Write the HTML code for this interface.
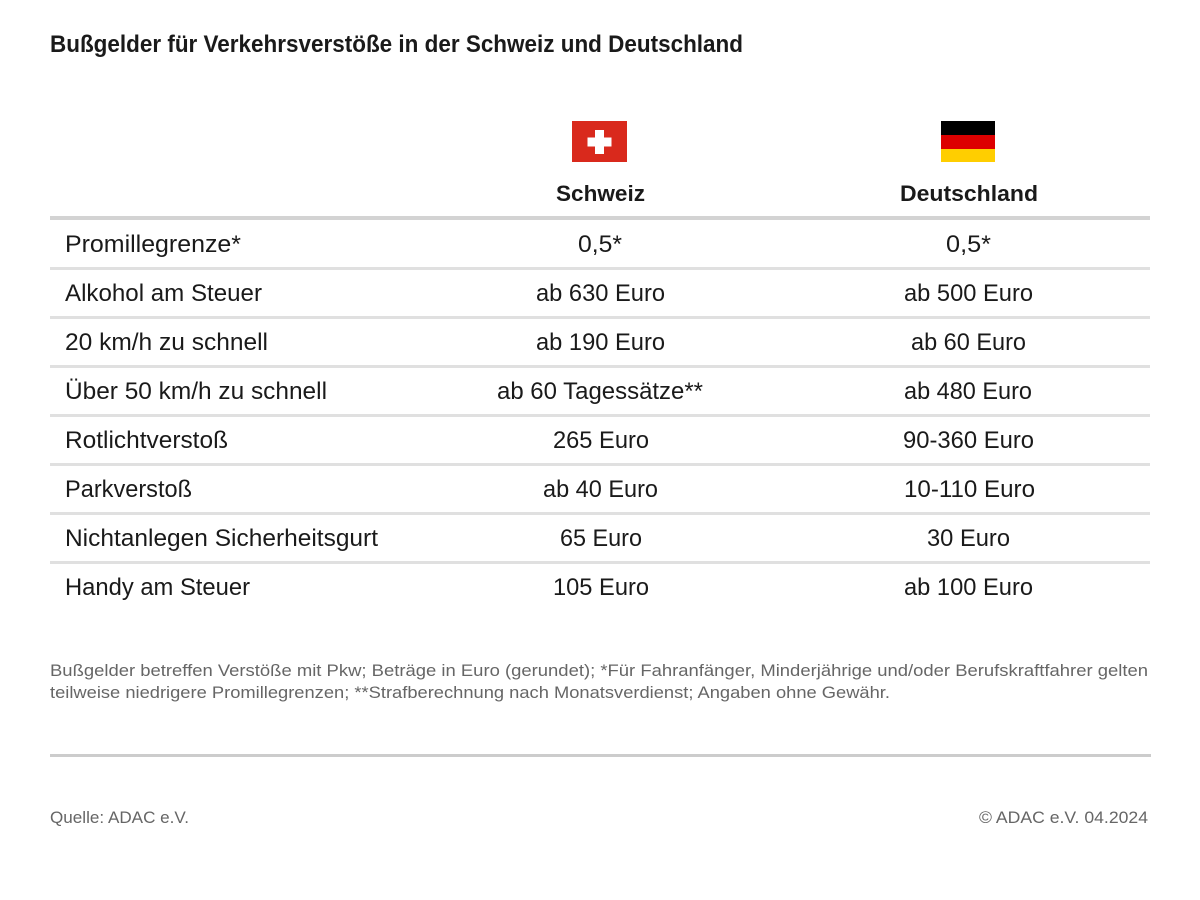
<!DOCTYPE html>
<html>
<head>
<meta charset="utf-8">
<style>
  html, body { margin: 0; padding: 0; background: #ffffff; }
  svg { display: block; }
  text { font-family: "Liberation Sans", "DejaVu Sans", sans-serif; }
</style>
</head>
<body>
<svg width="1200" height="900" viewBox="0 0 1200 900" xmlns="http://www.w3.org/2000/svg">
  <rect x="0" y="0" width="1200" height="900" fill="#ffffff"/>

  <!-- Title -->
  <text x="50" y="52" font-size="24" font-weight="bold" fill="#1a1a1a" textLength="693" lengthAdjust="spacingAndGlyphs">Bußgelder für Verkehrsverstöße in der Schweiz und Deutschland</text>

  <!-- Swiss flag -->
  <rect x="572" y="121" width="55" height="41" fill="#d9291c"/>
  <rect x="595" y="130" width="9" height="24" fill="#ffffff"/>
  <rect x="587.5" y="137.5" width="24" height="9" fill="#ffffff"/>

  <!-- German flag -->
  <rect x="941" y="121" width="54" height="14" fill="#000000"/>
  <rect x="941" y="135" width="54" height="14" fill="#dd0000"/>
  <rect x="941" y="149" width="54" height="13" fill="#ffce00"/>

  <!-- Column headers -->
  <text x="600.5" y="201" font-size="22" font-weight="bold" fill="#1a1a1a" text-anchor="middle" textLength="89" lengthAdjust="spacingAndGlyphs">Schweiz</text>
  <text x="969" y="201" font-size="22" font-weight="bold" fill="#1a1a1a" text-anchor="middle" textLength="138" lengthAdjust="spacingAndGlyphs">Deutschland</text>

  <!-- Header line -->
  <rect x="50" y="216" width="1100" height="4" fill="#d3d3d3"/>

  <!-- Row lines -->
  <rect x="50" y="267" width="1100" height="3" fill="#e0e0e0"/>
  <rect x="50" y="316" width="1100" height="3" fill="#e0e0e0"/>
  <rect x="50" y="365" width="1100" height="3" fill="#e0e0e0"/>
  <rect x="50" y="414" width="1100" height="3" fill="#e0e0e0"/>
  <rect x="50" y="463" width="1100" height="3" fill="#e0e0e0"/>
  <rect x="50" y="512" width="1100" height="3" fill="#e0e0e0"/>
  <rect x="50" y="561" width="1100" height="3" fill="#e0e0e0"/>

  <g font-size="24" fill="#1a1a1a">
    <!-- Row labels -->
    <text x="65" y="252" textLength="176" lengthAdjust="spacingAndGlyphs">Promillegrenze*</text>
    <text x="65" y="301" textLength="197" lengthAdjust="spacingAndGlyphs">Alkohol am Steuer</text>
    <text x="65" y="350" textLength="203" lengthAdjust="spacingAndGlyphs">20 km/h zu schnell</text>
    <text x="65" y="399" textLength="262" lengthAdjust="spacingAndGlyphs">Über 50 km/h zu schnell</text>
    <text x="65" y="448" textLength="163" lengthAdjust="spacingAndGlyphs">Rotlichtverstoß</text>
    <text x="65" y="497" textLength="127" lengthAdjust="spacingAndGlyphs">Parkverstoß</text>
    <text x="65" y="546" textLength="313" lengthAdjust="spacingAndGlyphs">Nichtanlegen Sicherheitsgurt</text>
    <text x="65" y="595" textLength="185" lengthAdjust="spacingAndGlyphs">Handy am Steuer</text>

    <!-- Schweiz values -->
    <text x="600" y="252" text-anchor="middle" textLength="44" lengthAdjust="spacingAndGlyphs">0,5*</text>
    <text x="600.5" y="301" text-anchor="middle" textLength="129" lengthAdjust="spacingAndGlyphs">ab 630 Euro</text>
    <text x="600.5" y="350" text-anchor="middle" textLength="129" lengthAdjust="spacingAndGlyphs">ab 190 Euro</text>
    <text x="600" y="399" text-anchor="middle" textLength="206" lengthAdjust="spacingAndGlyphs">ab 60 Tagessätze**</text>
    <text x="601" y="448" text-anchor="middle" textLength="96" lengthAdjust="spacingAndGlyphs">265 Euro</text>
    <text x="600.5" y="497" text-anchor="middle" textLength="115" lengthAdjust="spacingAndGlyphs">ab 40 Euro</text>
    <text x="601" y="546" text-anchor="middle" textLength="82" lengthAdjust="spacingAndGlyphs">65 Euro</text>
    <text x="601" y="595" text-anchor="middle" textLength="96" lengthAdjust="spacingAndGlyphs">105 Euro</text>

    <!-- Deutschland values -->
    <text x="968.5" y="252" text-anchor="middle" textLength="45" lengthAdjust="spacingAndGlyphs">0,5*</text>
    <text x="968.5" y="301" text-anchor="middle" textLength="129" lengthAdjust="spacingAndGlyphs">ab 500 Euro</text>
    <text x="968.5" y="350" text-anchor="middle" textLength="115" lengthAdjust="spacingAndGlyphs">ab 60 Euro</text>
    <text x="968" y="399" text-anchor="middle" textLength="128" lengthAdjust="spacingAndGlyphs">ab 480 Euro</text>
    <text x="968.5" y="448" text-anchor="middle" textLength="131" lengthAdjust="spacingAndGlyphs">90-360 Euro</text>
    <text x="969.5" y="497" text-anchor="middle" textLength="131" lengthAdjust="spacingAndGlyphs">10-110 Euro</text>
    <text x="968.5" y="546" text-anchor="middle" textLength="83" lengthAdjust="spacingAndGlyphs">30 Euro</text>
    <text x="968.5" y="595" text-anchor="middle" textLength="129" lengthAdjust="spacingAndGlyphs">ab 100 Euro</text>
  </g>

  <!-- Footnote -->
  <g font-size="17" fill="#666666">
    <text x="50" y="676" textLength="1098" lengthAdjust="spacingAndGlyphs">Bußgelder betreffen Verstöße mit Pkw; Beträge in Euro (gerundet); *Für Fahranfänger, Minderjährige und/oder Berufskraftfahrer gelten</text>
    <text x="50" y="698" textLength="840" lengthAdjust="spacingAndGlyphs">teilweise niedrigere Promillegrenzen; **Strafberechnung nach Monatsverdienst; Angaben ohne Gewähr.</text>
  </g>

  <!-- Bottom line -->
  <rect x="50" y="754" width="1101" height="3" fill="#cccccc"/>

  <!-- Source -->
  <g font-size="17" fill="#666666">
    <text x="50" y="823" textLength="139" lengthAdjust="spacingAndGlyphs">Quelle: ADAC e.V.</text>
    <text x="1148" y="823" text-anchor="end" textLength="169" lengthAdjust="spacingAndGlyphs">© ADAC e.V. 04.2024</text>
  </g>
</svg>
</body>
</html>
